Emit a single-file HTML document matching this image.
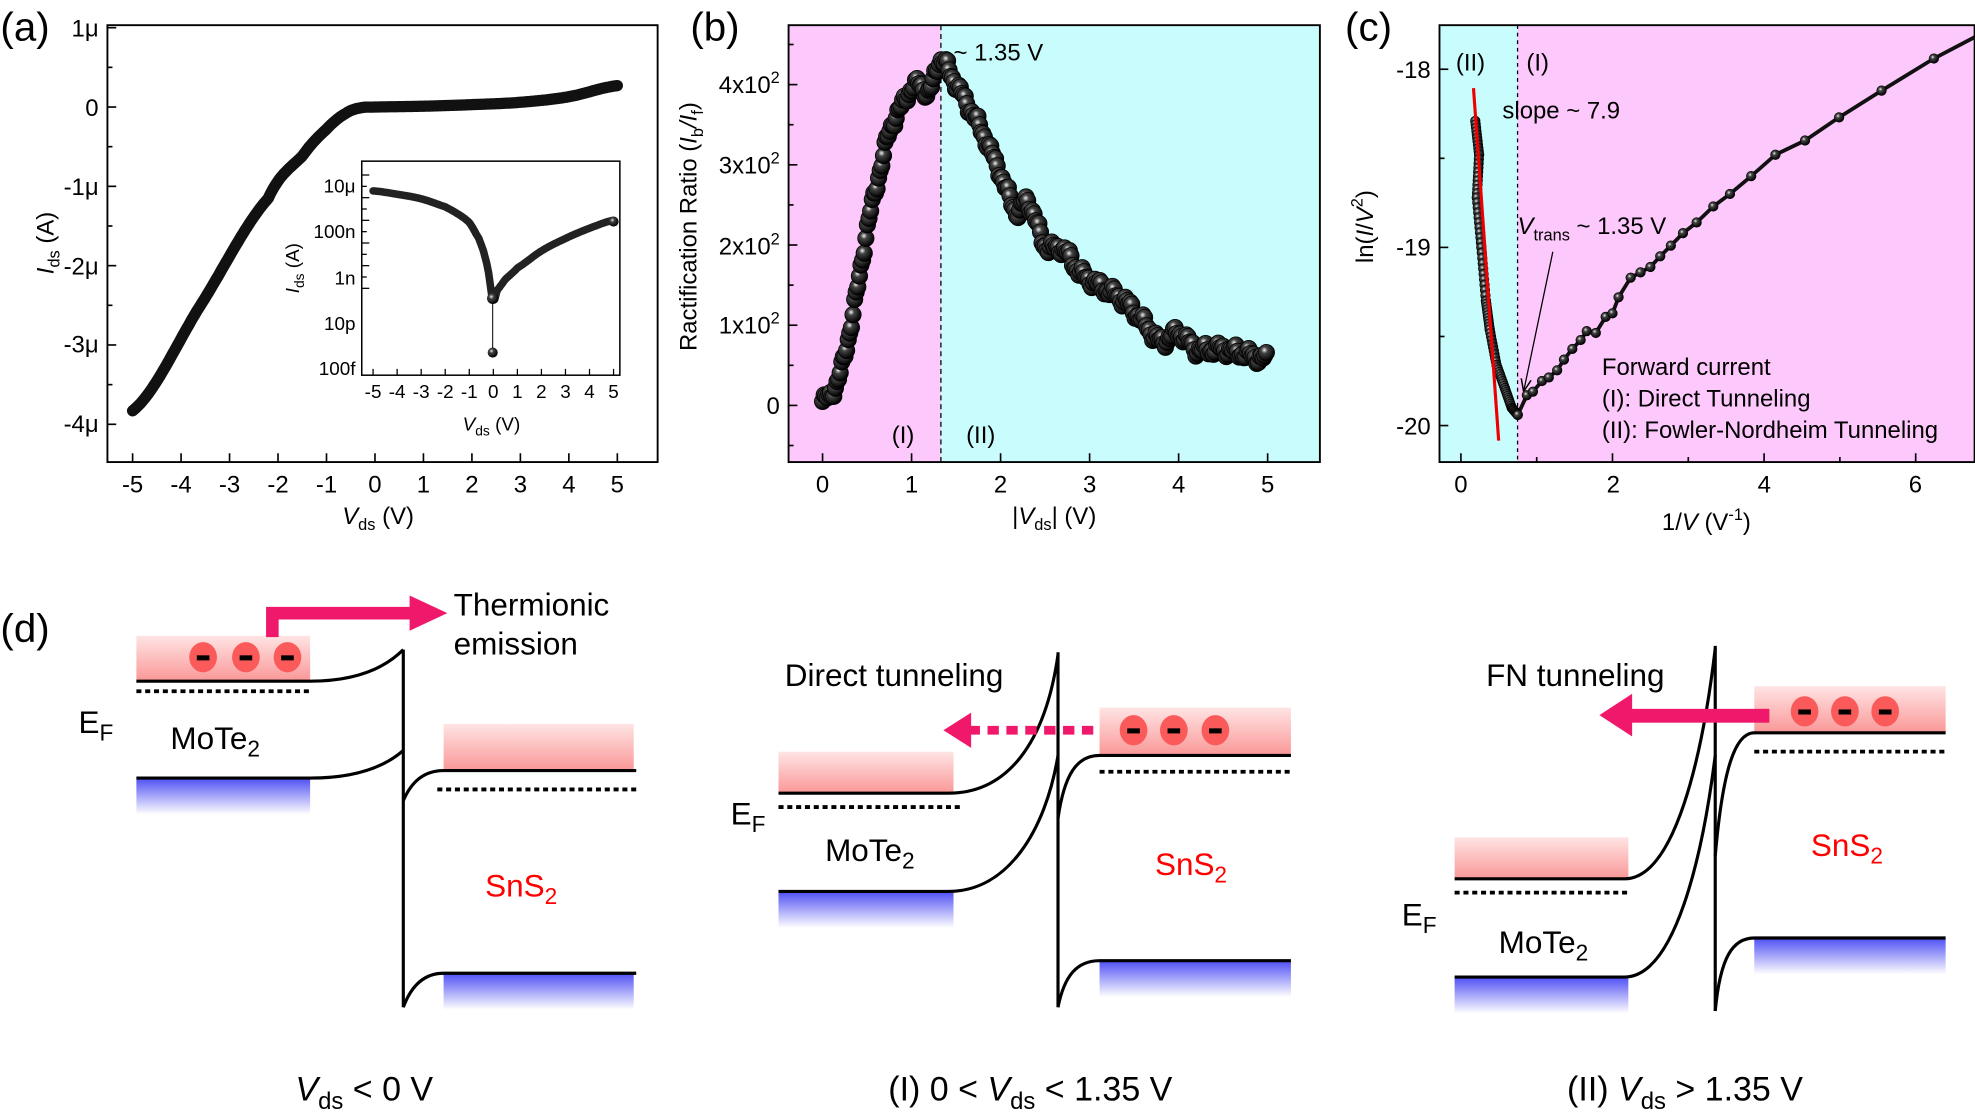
<!DOCTYPE html>
<html><head><meta charset="utf-8"><style>
html,body{margin:0;padding:0;background:#fff;}
svg{display:block;}
svg text{font-family:"Liberation Sans",Arimo,Arial,sans-serif;}
</style></head><body>
<svg id="s" width="1975" height="1113" viewBox="0 0 1568 884" xmlns="http://www.w3.org/2000/svg" font-family="Liberation Sans, Arial, sans-serif">
<defs>
<radialGradient id="ball" cx="0.38" cy="0.35" r="0.65"><stop offset="0" stop-color="#f2f2f2"/><stop offset="0.3" stop-color="#444"/><stop offset="1" stop-color="#000"/></radialGradient>
<linearGradient id="pk" x1="0" y1="0" x2="0" y2="1"><stop offset="0" stop-color="#ffe4e4"/><stop offset="1" stop-color="#fa9797"/></linearGradient>
<linearGradient id="bl" x1="0" y1="0" x2="0" y2="1"><stop offset="0" stop-color="#5555f5"/><stop offset="1" stop-color="#ffffff"/></linearGradient>
<marker id="ah" markerWidth="10" markerHeight="10" refX="9" refY="5" orient="auto" markerUnits="userSpaceOnUse"><path d="M0,1 L10,5 L0,9" fill="none" stroke="#000" stroke-width="1.2"/></marker>
</defs>

<!-- ===== (a) ===== -->
<text x="0" y="32" font-size="32">(a)</text>
<rect x="85" y="20" width="437" height="347" fill="none" stroke="#000" stroke-width="1.5"/>
<g id="aticks" stroke="#000" stroke-width="1.3"></g>
<g font-size="19" text-anchor="end">
<text x="78" y="29">1μ</text><text x="78" y="92">0</text><text x="78" y="155">-1μ</text><text x="78" y="218">-2μ</text><text x="78" y="280">-3μ</text><text x="78" y="343">-4μ</text>
</g>
<g font-size="19" text-anchor="middle" id="axl"></g>
<text x="300" y="416" font-size="19" text-anchor="middle"><tspan font-style="italic">V</tspan><tspan font-size="13" dy="5">ds</tspan><tspan dy="-5"> (V)</tspan></text>
<text transform="translate(42,193) rotate(-90)" font-size="19" text-anchor="middle"><tspan font-style="italic">I</tspan><tspan font-size="13" dy="5">ds</tspan><tspan dy="-5"> (A)</tspan></text>
<polyline id="aline" fill="none" stroke="#111" stroke-width="9" stroke-linecap="round" stroke-linejoin="round"/>
<!-- inset -->
<rect x="287" y="128" width="205" height="170" fill="#fff" stroke="#000" stroke-width="1.2"/>
<g id="iticks" stroke="#000" stroke-width="1"></g>
<g font-size="15" text-anchor="end">
<text x="282" y="153">10μ</text><text x="282" y="189">100n</text><text x="282" y="226">1n</text><text x="282" y="262">10p</text><text x="282" y="298">100f</text>
</g>
<g font-size="15" text-anchor="middle" id="ixl"></g>
<text x="390" y="342" font-size="15" text-anchor="middle"><tspan font-style="italic">V</tspan><tspan font-size="11" dy="4">ds</tspan><tspan dy="-4"> (V)</tspan></text>
<text transform="translate(237,213) rotate(-90)" font-size="15" text-anchor="middle"><tspan font-style="italic">I</tspan><tspan font-size="11" dy="4">ds</tspan><tspan dy="-4"> (A)</tspan></text>
<line x1="391" y1="236" x2="391" y2="280" stroke="#000" stroke-width="0.8"/>
<polyline id="iline1" fill="none" stroke="#222" stroke-width="6" stroke-linecap="round" stroke-linejoin="round"/>
<polyline id="iline2" fill="none" stroke="#222" stroke-width="6" stroke-linecap="round" stroke-linejoin="round"/>
<circle cx="391" cy="237" r="4.5" fill="url(#ball)"/>
<circle cx="391" cy="280" r="4" fill="url(#ball)"/>
<circle cx="487" cy="176" r="4" fill="url(#ball)"/>

<!-- ===== (b) ===== -->
<text x="548" y="32" font-size="32">(b)</text>
<rect x="626" y="20" width="121" height="347" fill="#fdc8fb"/>
<rect x="747" y="20" width="301" height="347" fill="#c9fdfd"/>
<line x1="747" y1="20" x2="747" y2="367" stroke="#000" stroke-width="1" stroke-dasharray="4,3"/>
<rect x="626" y="20" width="422" height="347" fill="none" stroke="#000" stroke-width="1.5"/>
<g id="bticks" stroke="#000" stroke-width="1.3"></g>
<g font-size="19" text-anchor="end">
<text x="619" y="329">0</text>
<text x="619" y="265">1x10<tspan font-size="13" dy="-8">2</tspan></text>
<text x="619" y="202">2x10<tspan font-size="13" dy="-8">2</tspan></text>
<text x="619" y="138">3x10<tspan font-size="13" dy="-8">2</tspan></text>
<text x="619" y="74">4x10<tspan font-size="13" dy="-8">2</tspan></text>
</g>
<g font-size="19" text-anchor="middle" id="bxl"></g>
<text x="837" y="416" font-size="19" text-anchor="middle">|<tspan font-style="italic">V</tspan><tspan font-size="13" dy="5">ds</tspan><tspan dy="-5">| (V)</tspan></text>
<text transform="translate(553,180) rotate(-90)" font-size="19" text-anchor="middle">Ractification Ratio (<tspan font-style="italic">I</tspan><tspan font-size="13" dy="5">b</tspan><tspan dy="-5" font-style="italic">/I</tspan><tspan font-size="13" dy="5">f</tspan><tspan dy="-5">)</tspan></text>
<text x="757" y="48" font-size="19">~ 1.35 V</text>
<text x="708" y="352" font-size="19">(I)</text>
<text x="767" y="352" font-size="19">(II)</text>
<g id="bpts"></g>

<!-- ===== (c) ===== -->
<text x="1068" y="32" font-size="32">(c)</text>
<rect x="1143" y="20" width="62" height="347" fill="#c9fdfd"/>
<rect x="1205" y="20" width="363" height="347" fill="#fdc8fb"/>
<line x1="1205" y1="20" x2="1205" y2="367" stroke="#000" stroke-width="1" stroke-dasharray="3,3"/>
<rect x="1143" y="20" width="425" height="347" fill="none" stroke="#000" stroke-width="1.5"/>
<g id="cticks" stroke="#000" stroke-width="1.3"></g>
<g font-size="19" text-anchor="end">
<text x="1136" y="62">-18</text><text x="1136" y="203">-19</text><text x="1136" y="345">-20</text>
</g>
<g font-size="19" text-anchor="middle">
<text x="1160" y="391">0</text><text x="1281" y="391">2</text><text x="1401" y="391">4</text><text x="1521" y="391">6</text>
</g>
<text x="1355" y="421" font-size="19" text-anchor="middle">1/<tspan font-style="italic">V</tspan> (V<tspan font-size="13" dy="-8">-1</tspan><tspan dy="8">)</tspan></text>
<text transform="translate(1090,180) rotate(-90)" font-size="19" text-anchor="middle">ln(<tspan font-style="italic">I</tspan>/<tspan font-style="italic">V</tspan><tspan font-size="13" dy="-8">2</tspan><tspan dy="8">)</tspan></text>
<text x="1156" y="56" font-size="19">(II)</text>
<text x="1212" y="56" font-size="19">(I)</text>
<text x="1193" y="94" font-size="19">slope ~ 7.9</text>
<text x="1205" y="186" font-size="19"><tspan font-style="italic">V</tspan><tspan font-size="13" dy="5">trans</tspan><tspan dy="-5"> ~ 1.35 V</tspan></text>
<line x1="1233" y1="200" x2="1210" y2="310" stroke="#000" stroke-width="1" marker-end="url(#ah)"/>
<g font-size="19"><text x="1272" y="298">Forward current</text><text x="1272" y="323">(I): Direct Tunneling</text><text x="1272" y="348">(II): Fowler-Nordheim Tunneling</text></g>
<polyline id="cline" fill="none" stroke="#111" stroke-width="3" stroke-linejoin="round"/>
<g id="cpts"></g>
<line x1="1170" y1="70" x2="1190" y2="350" stroke="#e00" stroke-width="2.5"/>

<!-- ===== (d) ===== -->
<text x="0" y="510" font-size="32">(d)</text>
<g id="d"></g>
<g font-size="25">
<text x="360" y="489">Thermionic</text><text x="360" y="520">emission</text>
<text x="62" y="582">E<tspan font-size="18" dy="6">F</tspan></text>
<text x="135" y="595">MoTe<tspan font-size="18" dy="6">2</tspan></text>
<text x="385" y="712" fill="#f00">SnS<tspan font-size="18" dy="6">2</tspan></text>
<text x="623" y="545">Direct tunneling</text>
<text x="580" y="655">E<tspan font-size="18" dy="6">F</tspan></text>
<text x="655" y="684">MoTe<tspan font-size="18" dy="6">2</tspan></text>
<text x="917" y="695" fill="#f00">SnS<tspan font-size="18" dy="6">2</tspan></text>
<text x="1180" y="545">FN tunneling</text>
<text x="1113" y="735">E<tspan font-size="18" dy="6">F</tspan></text>
<text x="1190" y="757">MoTe<tspan font-size="18" dy="6">2</tspan></text>
<text x="1438" y="680" fill="#f00">SnS<tspan font-size="18" dy="6">2</tspan></text>
</g>
<g font-size="27" text-anchor="middle">
<text x="289" y="874"><tspan font-style="italic">V</tspan><tspan font-size="19" dy="7">ds</tspan><tspan dy="-7"> &lt; 0 V</tspan></text>
<text x="818" y="874">(I) 0 &lt; <tspan font-style="italic">V</tspan><tspan font-size="19" dy="7">ds</tspan><tspan dy="-7"> &lt; 1.35 V</tspan></text>
<text x="1338" y="874">(II) <tspan font-style="italic">V</tspan><tspan font-size="19" dy="7">ds</tspan><tspan dy="-7"> &gt; 1.35 V</tspan></text>
</g>
</svg>
<script>
const NS="http://www.w3.org/2000/svg";
function el(p,t,a){const e=document.createElementNS(NS,t);for(const k in a)e.setAttribute(k,a[k]);document.getElementById(p).appendChild(e);return e;}
function interp(pts,x){const n=pts.length;if(x<=pts[0][0])return pts[0][1];if(x>=pts[n-1][0])return pts[n-1][1];
for(let i=0;i<n-1;i++){if(x>=pts[i][0]&&x<=pts[i+1][0]){const t=(x-pts[i][0])/(pts[i+1][0]-pts[i][0]);
const p0=pts[Math.max(i-1,0)][1],p1=pts[i][1],p2=pts[i+1][1],p3=pts[Math.min(i+2,n-1)][1];
return 0.5*((2*p1)+(-p0+p2)*t+(2*p0-5*p1+4*p2-p3)*t*t+(-p0+3*p1-3*p2+p3)*t*t*t);}}}
function tick(g,x1,y1,x2,y2){el(g,'line',{x1,y1,x2,y2});}
for(let v=-5;v<=5;v++){const x=105+38.5*(v+5);tick('aticks',x,367,x,360);el('axl','text',{x:x,y:391}).textContent=v;}
for(let i=0;i<=11;i++){const y=22+31.5*i;if(y>367)break;tick('aticks',85,y,i%2?89:92,y);}
const ad=[[-5,-3.83],[-3.6,-2.5],[-2.2,-1.15],[-1.5,-0.62],[-1,-0.28],[-0.6,-0.08],[-0.3,-0.01],[0,0.0],[1,0.01],[2,0.03],[3,0.06],[4,0.13],[5,0.27]];
let s="";for(let v=-5;v<=5.001;v+=0.04){s+=(105+38.5*(v+5)).toFixed(1)+","+(85-63*interp(ad,v)).toFixed(1)+" ";}
document.getElementById('aline').setAttribute('points',s);
for(let v=-5;v<=5;v++){const x=296+19.1*(v+5);tick('iticks',x,298,x,293);el('ixl','text',{x:x,y:316}).textContent=v;}
for(let k=0;k<=10;k++){const y=139+18*k/2;if(y>298)break;tick('iticks',287,y,k%2?291:293,y);}
const il=[[-5,-5.2],[-4,-5.35],[-3,-5.55],[-2,-5.9],[-1.5,-6.2],[-1,-6.6],[-0.6,-7.3],[-0.4,-7.9],[-0.2,-8.8],[0,-10.2]];
const ir=[[0.05,-10],[0.15,-9.6],[0.5,-9.1],[1,-8.6],[2,-7.85],[3,-7.3],[4,-6.85],[5,-6.5]];
function iy(l){return 148+18*(-5-l);}
s="";for(let v=-5;v<=0;v+=0.04){s+=(296+19.1*(v+5)).toFixed(1)+","+iy(interp(il,v)).toFixed(1)+" ";}
document.getElementById('iline1').setAttribute('points',s);
s="";for(let v=0.05;v<=5;v+=0.04){s+=(296+19.1*(v+5)).toFixed(1)+","+iy(interp(ir,v)).toFixed(1)+" ";}
document.getElementById('iline2').setAttribute('points',s);
for(let v=0;v<=5;v++){const x=653+70.7*v;tick('bticks',x,367,x,360);el('bxl','text',{x:x,y:391}).textContent=v;}
for(let r=-50;r<=450;r+=50){const y=322-0.637*r;tick('bticks',626,y,r%100?630:633,y);}
const bd=[[0,5],[0.1,15],[0.2,40],[0.3,90],[0.4,150],[0.5,220],[0.6,270],[0.7,320],[0.8,355],[0.9,375],[1.0,395],[1.1,400],[1.2,390],[1.3,425],[1.35,430],[1.45,410],[1.6,380],[1.8,340],[2.0,290],[2.1,260],[2.2,240],[2.3,255],[2.5,200],[2.7,195],[2.9,165],[3.1,150],[3.4,130],[3.6,105],[3.8,80],[4.0,90],[4.2,70],[4.5,70],[5,58]];
for(let v=0;v<=5.001;v+=0.018){const r=interp(bd,v)+(Math.sin(v*37)*5+Math.sin(v*91)*4);el('bpts','circle',{cx:(653+70.7*v).toFixed(1),cy:(322-0.637*r).toFixed(1),r:6.5,fill:'url(#ball)',stroke:'#000','stroke-width':0.6});}
for(let v=0;v<=7;v++){const x=1160+60.2*v;if(x>1566)break;tick('cticks',x,367,x,v%2?363:360);}
[-18,-18.5,-19,-19.5,-20].forEach((L,i)=>{const y=55+141.5*(-18-L);tick('cticks',1143,y,i%2?1147:1150,y);});
function cx(v){return 1160+60.2*v;} function cy(L){return 55+141.5*(-18-L);}
const cr=[[0.75,-19.94],[0.87,-19.83],[0.95,-19.81],[1.07,-19.75],[1.16,-19.73],[1.27,-19.69],[1.36,-19.63],[1.47,-19.57],[1.58,-19.52],[1.66,-19.47],[1.78,-19.48],[1.91,-19.39],[2.0,-19.37],[2.08,-19.28],[2.24,-19.17],[2.37,-19.14],[2.5,-19.11],[2.63,-19.05],[2.77,-18.99],[2.93,-18.92],[3.11,-18.86],[3.33,-18.77],[3.55,-18.70],[3.83,-18.60],[4.15,-18.48],[4.54,-18.40],[4.99,-18.27],[5.55,-18.12],[6.24,-17.94]];
const cl=[[0.19,-18.29],[0.24,-18.48],[0.21,-18.72],[0.27,-19.0],[0.33,-19.3],[0.38,-19.46],[0.47,-19.66],[0.58,-19.79],[0.67,-19.9],[0.75,-19.94]];
s="";cl.forEach(p=>s+=cx(p[0])+","+cy(p[1])+" ");cr.forEach(p=>s+=cx(p[0])+","+cy(p[1])+" ");s+="1568,"+cy(-17.82);
document.getElementById('cline').setAttribute('points',s);
for(let i=0;i<cl.length-1;i++){for(let t=0;t<1;t+=0.1){const v=cl[i][0]+t*(cl[i+1][0]-cl[i][0]),L=cl[i][1]+t*(cl[i+1][1]-cl[i][1]);el('cpts','circle',{cx:cx(v),cy:cy(L),r:3.8,fill:'url(#ball)',stroke:'#000','stroke-width':0.5});}}
cr.forEach(p=>el('cpts','circle',{cx:cx(p[0]),cy:cy(p[1]),r:3.8,fill:'url(#ball)',stroke:'#000','stroke-width':0.5}));
function P(d){return el('d','path',{d:d,fill:'none',stroke:'#000','stroke-width':2.5});}
function R(x,y,w,h,f){el('d','rect',{x,y,width:w,height:h,fill:f});}
function dots(x1,x2,y){el('d','line',{x1,y1:y,x2,y2:y,stroke:'#000','stroke-width':3,'stroke-dasharray':'4,3'});}
function elec(xs,y){xs.forEach(x=>{el('d','ellipse',{cx:x,cy:y,rx:11,ry:12,fill:'#fa5a5a'});el('d','rect',{x:x-5,y:y-1.5,width:10,height:4,fill:'#000'});});}
R(108,505,138,36,'url(#pk)');R(108,619,138,28,'url(#bl)');
R(352,575,151,37,'url(#pk)');R(352,774,151,28,'url(#bl)');
P('M108,541 L246,541 Q295,541 320,516');dots(108,248,549);
P('M108,618 L246,618 Q295,618 320,596');
P('M320,516 L320,800');
P('M320,636 Q330,612 352,612 L505,612');dots(347,507,627);
P('M320,800 Q330,773 352,773 L505,773');
elec([161,195,228],522);
el('d','path',{d:'M211,506 L211,482 L325,482 L325,473 L355,487 L325,501 L325,492 L221,492 L221,506 Z',fill:'#f0186a'});
R(618,597,139,33,'url(#pk)');R(618,709,139,28,'url(#bl)');
R(873,562,152,38,'url(#pk)');R(873,764,152,28,'url(#bl)');
P('M618,630 L753,630 C800,630 830,590 840,520');dots(618,763,641);
P('M618,708 L753,708 C800,708 830,660 840,600');
P('M840,518 L840,800');
P('M840,650 C845,615 855,600 873,600 L1025,600');dots(873,1025,613);
P('M840,800 C845,775 855,763 873,763 L1025,763');
elec([900,932,965],580);
el('d','line',{x1:868,y1:580,x2:768,y2:580,stroke:'#f0186a','stroke-width':7,'stroke-dasharray':'9,6'});
el('d','path',{d:'M749,580 L771,566 L771,594 Z',fill:'#f0186a'});
R(1155,665,138,33,'url(#pk)');R(1155,777,138,28,'url(#bl)');
R(1393,545,152,37,'url(#pk)');R(1393,746,152,28,'url(#bl)');
P('M1155,698 L1290,698 C1330,698 1352,600 1362,515');dots(1155,1293,709);
P('M1155,776 L1290,776 C1330,776 1352,680 1362,600');
P('M1362,513 L1362,803');
P('M1362,680 C1368,610 1378,582 1393,582 L1545,582');dots(1393,1545,597);
P('M1362,803 C1366,760 1376,745 1393,745 L1545,745');
el('d','rect',{x:1292,y:563,width:113,height:11,fill:'#f0186a'});
el('d','path',{d:'M1270,568 L1296,551 L1296,585 Z',fill:'#f0186a'});
elec([1433,1465,1497],565);
</script>
</body></html>
